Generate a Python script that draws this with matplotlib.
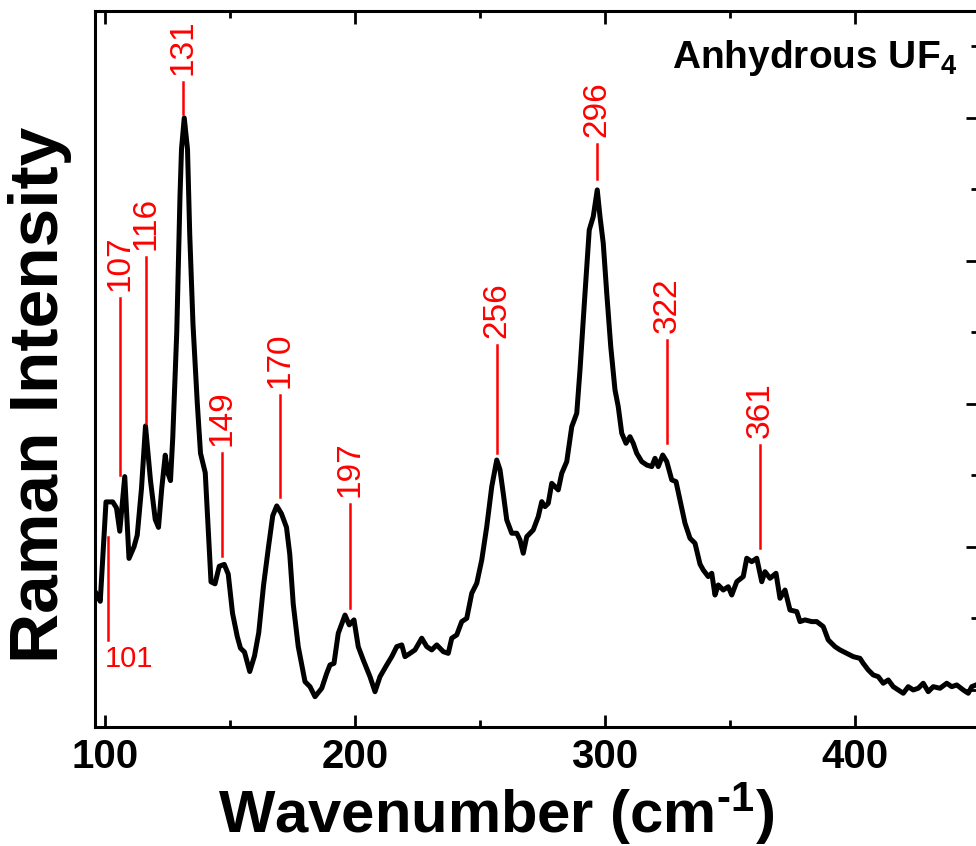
import numpy as np
import matplotlib
matplotlib.use('Agg')
import matplotlib.pyplot as plt

plt.rcParams['font.family'] = ['Liberation Sans', 'DejaVu Sans']
plt.rcParams['mathtext.fontset'] = 'custom'
plt.rcParams['mathtext.rm'] = 'Liberation Sans:bold'
plt.rcParams['mathtext.bf'] = 'Liberation Sans:bold'
plt.rcParams['mathtext.default'] = 'bf'

# spectrum (wavenumber cm-1, intensity a.u.)
wavenumber = [
    96.5, 98.1, 100.4, 103.1, 104.6, 105.9, 107.9, 109.6, 111.6, 112.9,
    114.6, 116.2, 118.2, 120.1, 121.4, 122.7, 124.1, 125.1, 126.2, 127.1,
    128.7, 130.0, 130.6, 131.7, 133.0, 133.9, 135.2, 136.9, 138.2, 140.1,
    141.1, 142.4, 144.0, 145.7, 147.7, 149.3, 151.0, 152.9, 154.2, 155.8,
    157.9, 159.8, 161.5, 163.4, 165.4, 167.1, 168.7, 170.6, 172.6, 173.9,
    175.3, 177.3, 180.0, 182.0, 184.0, 186.7, 188.7, 190.0, 191.6, 193.3,
    196.0, 197.7, 199.6, 201.3, 203.3, 206.0, 208.0, 210.0, 212.7, 214.7,
    216.7, 218.7, 220.0, 222.0, 224.0, 226.7, 228.7, 230.7, 232.7, 235.3,
    237.3, 238.7, 240.7, 242.7, 244.7, 246.7, 248.7, 250.7, 252.7, 254.7,
    256.7, 258.0, 259.3, 260.7, 262.7, 264.7, 266.0, 267.3, 268.7, 271.3,
    273.3, 274.7, 276.0, 277.3, 278.7, 280.0, 281.3, 282.7, 284.7, 286.7,
    288.7, 290.0, 292.0, 293.7, 295.3, 296.9, 298.0, 299.3, 300.7, 302.3,
    304.0, 305.3, 306.7, 308.4, 310.0, 311.3, 312.7, 314.7, 316.7, 318.7,
    320.0, 321.3, 323.1, 324.7, 326.7, 328.4, 330.0, 332.0, 334.0, 336.0,
    338.0, 339.3, 341.3, 342.7, 344.0, 345.3, 347.3, 349.3, 350.7, 352.7,
    355.3, 356.7, 358.7, 360.7, 362.7, 364.0, 366.0, 368.4, 370.0, 372.0,
    374.0, 376.7, 378.0, 380.0, 382.7, 384.7, 387.3, 389.3, 392.0, 394.0,
    396.7, 399.3, 402.0, 403.3, 405.3, 407.3, 409.3, 411.3, 413.3, 415.3,
    417.3, 419.3, 421.3, 423.3, 425.3, 427.3, 429.3, 431.3, 434.0, 436.7,
    438.7, 440.7, 443.3, 445.3, 446.7, 448.4,
]
intensity = [
    67.4, 62.0, 131.5, 131.5, 127.3, 111.0, 149.2, 92.0, 100.1, 108.3,
    141.0, 184.6, 146.4, 119.2, 113.7, 141.0, 164.2, 151.9, 146.4, 176.4,
    250.1, 345.5, 378.2, 400.0, 378.2, 318.2, 255.5, 201.0, 165.5, 151.9,
    119.2, 75.6, 74.2, 86.5, 87.8, 81.0, 53.8, 37.4, 29.2, 26.5,
    12.9, 23.8, 40.1, 72.9, 100.1, 121.9, 128.7, 123.2, 113.7, 95.0,
    60.0, 30.3, 5.8, 2.3, -4.7, 1.2, 11.7, 17.5, 18.6, 39.6,
    52.4, 45.5, 49.0, 30.3, 21.0, 9.3, -1.2, 9.3, 17.5, 23.3,
    30.3, 31.5, 23.3, 25.6, 28.0, 36.2, 30.3, 28.0, 31.5, 26.8,
    25.6, 36.2, 38.5, 47.8, 50.1, 67.6, 74.6, 90.9, 114.2, 142.2,
    160.8, 154.0, 137.5, 118.9, 109.6, 109.6, 104.9, 95.6, 107.2, 111.9,
    121.2, 131.7, 128.2, 130.5, 144.5, 142.2, 139.9, 151.5, 159.7, 184.1,
    193.5, 223.8, 277.4, 321.7, 331.0, 349.7, 331.0, 312.4, 277.4, 240.1,
    209.8, 198.1, 179.5, 172.5, 177.1, 172.5, 165.5, 159.7, 157.3, 156.2,
    162.0, 156.2, 164.3, 159.7, 146.9, 145.7, 132.9, 116.6, 106.1, 102.6,
    88.0, 83.9, 79.3, 81.6, 66.4, 73.4, 69.9, 72.2, 66.4, 75.7,
    79.3, 92.1, 89.7, 92.1, 75.7, 82.7, 78.1, 81.6, 64.1, 69.9,
    55.9, 54.8, 47.8, 49.0, 47.8, 47.8, 44.3, 35.0, 30.3, 28.0,
    25.6, 23.3, 22.1, 18.6, 14.0, 10.5, 9.3, 4.7, 7.0, 2.3,
    0.0, -2.3, 2.3, 0.0, 1.2, 4.7, -1.2, 2.3, 1.2, 4.7,
    2.3, 3.5, 0.0, -2.3, 2.3, 3.5,
]

# peak annotations: label, line position, line bottom, line top
peak_labels = ['107', '116', '131', '149', '170', '197', '256', '296', '322', '361']
peak_line_x = [106.0, 116.4, 131.2, 146.8, 170.0, 198.0, 256.8, 296.8, 324.8, 362.0]
peak_line_lo = [150, 187, 403, 94, 135, 57, 166, 357, 173, 99]
peak_line_hi = [274, 303, 425, 166, 206, 130, 241, 382, 245, 171]

# the 101 shoulder is labelled below the curve
low_label = '101'
low_line_x = 101.2
low_line_lo = 35
low_line_hi = 107

fig = plt.figure(figsize=(9.76, 8.46), dpi=100)
ax = fig.add_axes([95 / 976, 1 - 727 / 846, 883 / 976, 716 / 846])

ax.plot(wavenumber, intensity, color='black', lw=3.6, solid_joinstyle='round')

for lab, x, lo, hi in zip(peak_labels, peak_line_x, peak_line_lo, peak_line_hi):
    ax.plot([x, x], [lo, hi], color='red', lw=1.8)
    ax.annotate(lab, (x, hi), xytext=(0, 5), textcoords='offset points',
                rotation=90, ha='center', va='bottom', color='red', fontsize=24)

ax.plot([low_line_x, low_line_x], [low_line_lo, low_line_hi], color='red', lw=1.8)
ax.annotate(low_label, (low_line_x, low_line_lo), xytext=(-2, -4), textcoords='offset points',
            ha='left', va='top', color='red', fontsize=21)

fig.text(957 / 976, 1 - 68 / 846, 'Anhydrous UF$_4$', ha='right', va='baseline',
         fontsize=28, fontweight='bold')

ax.set_xlim(96, 449.2)
ax.set_ylim(-25.9, 474.8)
ax.set_xticks([100, 200, 300, 400])
ax.set_xticks([150, 250, 350], minor=True)
ax.set_yticks([0, 100, 200, 300, 400])
ax.set_yticks([50, 150, 250, 350, 450], minor=True)
ax.set_yticklabels([])

ax.tick_params(which='both', direction='in', top=True, right=True, left=False,
               bottom=True, width=2)
ax.tick_params(which='major', length=9)
ax.tick_params(which='minor', length=5)
ax.tick_params(axis='x', labelsize=29, pad=8)
for t in ax.get_xticklabels():
    t.set_fontweight('bold')
for s in ax.spines.values():
    s.set_linewidth(2.2)

fig.text(496 / 976, 1 - 833 / 846, r'Wavenumber (cm$^{\text{-}1}$)', ha='center',
         va='baseline', fontsize=43, fontweight='bold')
fig.text(40 / 976, 1 - 395 / 846, 'Raman Intensity', rotation=90, ha='center',
         va='center', fontsize=50, fontweight='bold')

fig.savefig('out.png', dpi=100)
